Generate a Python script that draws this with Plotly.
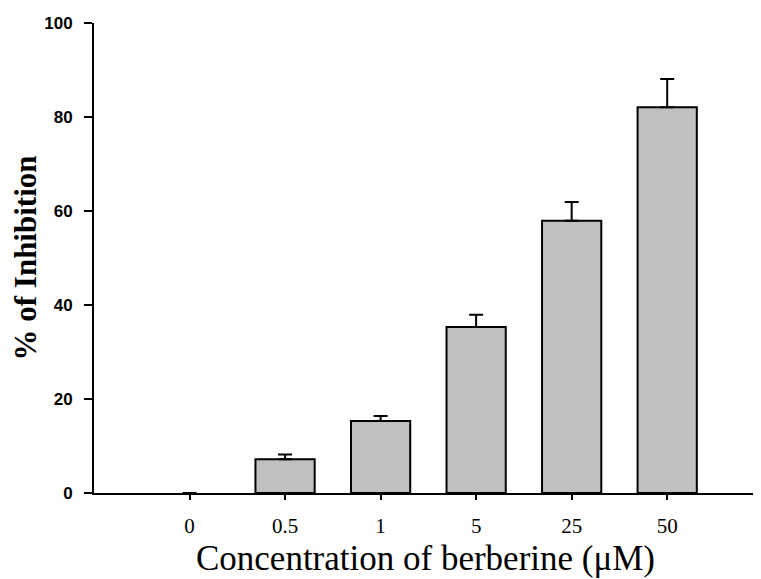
import plotly.graph_objects as go

categories = ["0", "0.5", "1", "5", "25", "50"]
inhibition = [0, 7.2, 15.3, 35.3, 57.9, 82.1]
error_up = [0, 1.0, 1.1, 2.6, 4.0, 6.0]
y_ticks = [0, 20, 40, 60, 80, 100]

outline_widths = [0 if v == 0 else 2 for v in inhibition]

fig = go.Figure()
fig.add_trace(go.Bar(
    x=categories,
    y=inhibition,
    width=0.62,
    marker=dict(color="#c0c0c0", line=dict(color="black", width=outline_widths)),
    error_y=dict(type="data", array=error_up, arrayminus=[0]*len(error_up),
                 symmetric=False, color="black", thickness=2, width=7),
))

fig.update_layout(
    width=761, height=579,
    margin=dict(l=86, r=12, t=15, b=94),
    plot_bgcolor="white", paper_bgcolor="white",
    showlegend=False,
    xaxis=dict(
        type="category", range=[-1, 5.94], automargin=False,
        showline=True, linecolor="black", linewidth=2,
        ticks="outside", ticklen=5, tickwidth=2, tickcolor="black",
        showgrid=False, zeroline=False,
        ticklabelstandoff=8,
        tickfont=dict(family="Liberation Serif", size=21, color="black"),
        title=dict(text="Concentration of berberine (μM)",
                   font=dict(family="Liberation Serif", size=35, color="black"),
                   standoff=8),
    ),
    yaxis=dict(
        range=[0, 100], tickvals=y_ticks, automargin=False,
        showline=True, linecolor="black", linewidth=2,
        ticks="outside", ticklen=8, tickwidth=2, tickcolor="black",
        showgrid=False, zeroline=False,
        ticklabelstandoff=8,
        tickfont=dict(family="Liberation Sans", size=17, color="black", weight="bold"),
        title=dict(text="% of Inhibition",
                   font=dict(family="Liberation Serif", size=31, color="black", weight="bold"),
                   standoff=4),
    ),
)

fig.write_html("out.html")
